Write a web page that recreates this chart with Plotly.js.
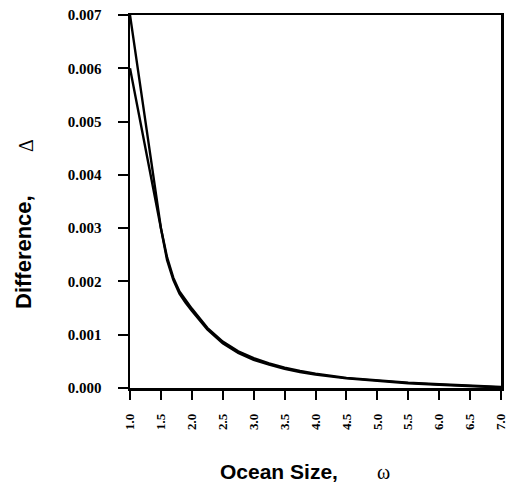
<!DOCTYPE html>
<html>
<head>
<meta charset="utf-8">
<script src="https://cdn.plot.ly/plotly-3.0.1.min.js"></script>
<style>html,body{margin:0;padding:0;background:#fff;}#chart{width:507px;height:484px;}</style>
</head>
<body>
<div id="chart"></div>
<script>
// Ocean size (omega)
const omega = [1.0,1.1,1.2,1.3,1.4,1.5,1.6,1.7,1.8,1.9,2.0,2.25,2.5,2.75,3.0,3.25,3.5,3.75,4.0,4.5,5.0,5.5,6.0,6.5,7.0];
// Difference, curve A (upper start)
const diffA = [0.0070,0.0062,0.0054,0.0046,0.0038,0.0030,0.00245,0.00207,0.00181,0.00164,0.00149,0.00113,0.00087,0.00069,0.00056,0.00046,0.00038,0.00032,0.00027,0.00019,0.00014,0.00010,0.00007,0.00005,0.00002];
// Difference, curve B (lower start)
const diffB = [0.0060,0.0054,0.0048,0.0042,0.0036,0.00295,0.00240,0.00203,0.00177,0.00160,0.00145,0.00110,0.00084,0.00066,0.00053,0.00044,0.00036,0.00030,0.00025,0.00018,0.00013,0.00009,0.00006,0.00004,0.00001];
const xTicks = [1.0,1.5,2.0,2.5,3.0,3.5,4.0,4.5,5.0,5.5,6.0,6.5,7.0];
const yTicks = [0.000,0.001,0.002,0.003,0.004,0.005,0.006,0.007];

const W = 507, H = 484;
const m = {l:130, r:6, t:15, b:96};
const pw = W - m.l - m.r, ph = H - m.t - m.b;
const px = x => (x - m.l) / pw;
const py = y => (H - m.b - y) / ph;

const traces = [
  {x: omega, y: diffA, mode: 'lines', line: {color: '#000', width: 2.4}, hoverinfo: 'skip'},
  {x: omega, y: diffB, mode: 'lines', line: {color: '#000', width: 2.4}, hoverinfo: 'skip'}
];

const serif = '"Liberation Serif", "Times New Roman", serif';

const layout = {
  width: W, height: H,
  margin: m,
  paper_bgcolor: '#fff', plot_bgcolor: '#fff',
  showlegend: false,
  xaxis: {
    range: [1, 7], tickvals: xTicks, ticktext: xTicks.map(v => v.toFixed(1)),
    tickangle: -90, ticks: 'outside', ticklen: 9, tickwidth: 2, tickcolor: '#000',
    showline: true, linewidth: 2.5, linecolor: '#000', mirror: true,
    showgrid: false, zeroline: false,
    tickfont: {family: serif, size: 13, color: '#000', weight: 'bold'},
    ticklabelstandoff: 9, ticklabeloverflow: 'allow'
  },
  yaxis: {
    range: [0, 0.007], tickvals: yTicks, ticktext: yTicks.map(v => v.toFixed(3)),
    ticks: 'outside', ticklen: 10, tickwidth: 2, tickcolor: '#000',
    showline: true, linewidth: 2.5, linecolor: '#000', mirror: true,
    showgrid: false, zeroline: false,
    tickfont: {family: serif, size: 15, color: '#000', weight: 'bold'},
    ticklabelstandoff: 13
  },
  annotations: [
    {text: '<b>Ocean Size,</b>', xref: 'paper', yref: 'paper', x: px(279), y: py(471),
     xanchor: 'center', yanchor: 'middle', showarrow: false,
     font: {family: '"Liberation Sans", Arial, sans-serif', size: 21, color: '#000'}},
    {text: 'ω', xref: 'paper', yref: 'paper', x: px(383), y: py(472),
     xanchor: 'center', yanchor: 'middle', showarrow: false,
     font: {family: serif, size: 20, color: '#000'}},
    {text: '<b>Difference,</b>', xref: 'paper', yref: 'paper', x: px(23), y: py(252),
     xanchor: 'center', yanchor: 'middle', showarrow: false, textangle: -90,
     font: {family: '"Liberation Sans", Arial, sans-serif', size: 22, color: '#000'}},
    {text: 'Δ', xref: 'paper', yref: 'paper', x: px(26), y: py(146),
     xanchor: 'center', yanchor: 'middle', showarrow: false, textangle: -90,
     font: {family: serif, size: 20, color: '#000'}}
  ]
};

Plotly.newPlot('chart', traces, layout, {displayModeBar: false, staticPlot: true});
</script>
</body>
</html>
